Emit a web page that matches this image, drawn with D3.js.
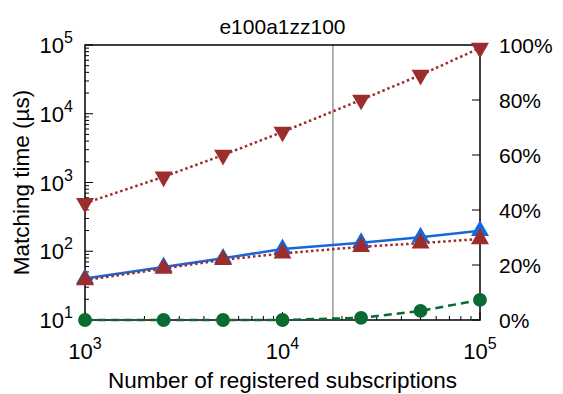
<!DOCTYPE html>
<html>
<head>
<meta charset="utf-8">
<script src="https://cdn.jsdelivr.net/npm/d3@7"></script>
<style>
  body { margin: 0; background: #fff; }
  svg { display: block; font-family: "Liberation Sans", Arial, sans-serif; }
</style>
</head>
<body>
<script>
// data
const subs = [1000, 2500, 5000, 10000, 25000, 50000, 100000];
const timeBlue = [40, 59, 79, 108, 133, 160, 199];
const timeRedUp = [38, 56, 75, 93, 116, 131, 151];
const timeRedDown = [500, 1210, 2510, 5430, 15900, 36600, 90400];
const ratioGreen = [0, 0, 0, 0, 0.8, 3.3, 7.3]; // right axis, %
const cutoff = 18000;
const xExps = [3, 4, 5];
const yExps = [1, 2, 3, 4, 5];
const pctTicks = [0, 20, 40, 60, 80, 100];

const W = 563, H = 394;
const m = {left: 85, right: 480, top: 45, bottom: 320};

const svg = d3.select("body").append("svg")
    .attr("width", W)
    .attr("height", H);

const x = d3.scaleLog().domain([1e3, 1e5]).range([m.left, m.right]);
const y = d3.scaleLog().domain([10, 1e5]).range([m.bottom, m.top]);
const y2 = d3.scaleLinear().domain([0, 100]).range([m.bottom, m.top]);

// gray marker line
svg.append("line")
    .attr("x1", x(cutoff)).attr("x2", x(cutoff))
    .attr("y1", m.top).attr("y2", m.bottom)
    .attr("stroke", "#999").attr("stroke-width", 1.5);

// ticks (all inward)
const tk = svg.append("g").attr("stroke", "#000").attr("stroke-width", 1);
const minorX = [];
for (let e = 3; e < 5; e++) for (let k = 2; k < 10; k++) minorX.push(k * Math.pow(10, e));
const minorY = [];
for (let e = 1; e < 5; e++) for (let k = 2; k < 10; k++) minorY.push(k * Math.pow(10, e));

tk.selectAll(".mx").data(minorX).join("line")
    .attr("x1", d => x(d)).attr("x2", d => x(d))
    .attr("y1", m.bottom).attr("y2", m.bottom - 4);
tk.selectAll(".Mx").data(xExps).join("line")
    .attr("x1", d => x(Math.pow(10, d))).attr("x2", d => x(Math.pow(10, d)))
    .attr("y1", m.bottom).attr("y2", m.bottom - 8);
tk.selectAll(".my").data(minorY).join("line")
    .attr("x1", m.left).attr("x2", m.left + 4)
    .attr("y1", d => y(d)).attr("y2", d => y(d));
tk.selectAll(".My").data(yExps).join("line")
    .attr("x1", m.left).attr("x2", m.left + 8)
    .attr("y1", d => y(Math.pow(10, d))).attr("y2", d => y(Math.pow(10, d)));
tk.selectAll(".My2").data(pctTicks).join("line")
    .attr("x1", m.right).attr("x2", m.right - 8)
    .attr("y1", d => y2(d)).attr("y2", d => y2(d));

// frame
svg.append("rect")
    .attr("x", m.left).attr("y", m.top)
    .attr("width", m.right - m.left).attr("height", m.bottom - m.top)
    .attr("fill", "none").attr("stroke", "#000").attr("stroke-width", 1.5);

// tick labels
function powLabel(g, e) {
    g.append("tspan").text("10");
    g.append("tspan").attr("dy", -10).attr("font-size", 16).text(e);
}
svg.selectAll(".yl").data(yExps).join("text")
    .attr("x", 73).attr("y", d => y(Math.pow(10, d)) + 8)
    .attr("text-anchor", "end").attr("font-size", 22)
    .each(function(d) { powLabel(d3.select(this), d); });
svg.selectAll(".xl").data(xExps).join("text")
    .attr("x", d => x(Math.pow(10, d))).attr("y", 359)
    .attr("text-anchor", "middle").attr("font-size", 22)
    .each(function(d) { powLabel(d3.select(this), d); });
svg.selectAll(".pl").data(pctTicks).join("text")
    .attr("x", 499).attr("y", d => y2(d) + 8)
    .attr("font-size", 21)
    .text(d => d + "%");

// titles
svg.append("text").attr("x", (m.left + m.right) / 2).attr("y", 34)
    .attr("text-anchor", "middle").attr("font-size", 21).text("e100a1zz100");
svg.append("text").attr("x", (m.left + m.right) / 2).attr("y", 388)
    .attr("text-anchor", "middle").attr("font-size", 22.5).text("Number of registered subscriptions");
svg.append("text")
    .attr("transform", `translate(29, ${(m.top + m.bottom) / 2}) rotate(-90)`)
    .attr("text-anchor", "middle").attr("font-size", 22.5).text("Matching time (\u00b5s)");

// series
const lineL = d3.line().x((d, i) => x(subs[i])).y(d => y(d));
const lineR = d3.line().x((d, i) => x(subs[i])).y(d => y2(d));
const blue = "#1767d8", red = "#9b2d2d", green = "#0a6b32";

function series(vals, gen, scale, color, dash, sym, rot) {
    svg.append("path")
        .attr("d", gen(vals))
        .attr("fill", "none").attr("stroke", color).attr("stroke-width", 2.5)
        .attr("stroke-dasharray", dash);
    svg.append("g").selectAll("path").data(vals).join("path")
        .attr("transform", (d, i) => `translate(${x(subs[i])},${scale(d)}) rotate(${rot})`)
        .attr("d", d3.symbol().type(sym).size(sym === d3.symbolCircle ? 150 : 140)())
        .attr("fill", color);
}
series(timeBlue, lineL, y, blue, null, d3.symbolTriangle, 0);
series(timeRedUp, lineL, y, red, "2.5,2.8", d3.symbolTriangle, 0);
series(timeRedDown, lineL, y, red, "2.5,2.8", d3.symbolTriangle, 180);
series(ratioGreen, lineR, y2, green, "8,5", d3.symbolCircle, 0);
</script>
</body>
</html>
